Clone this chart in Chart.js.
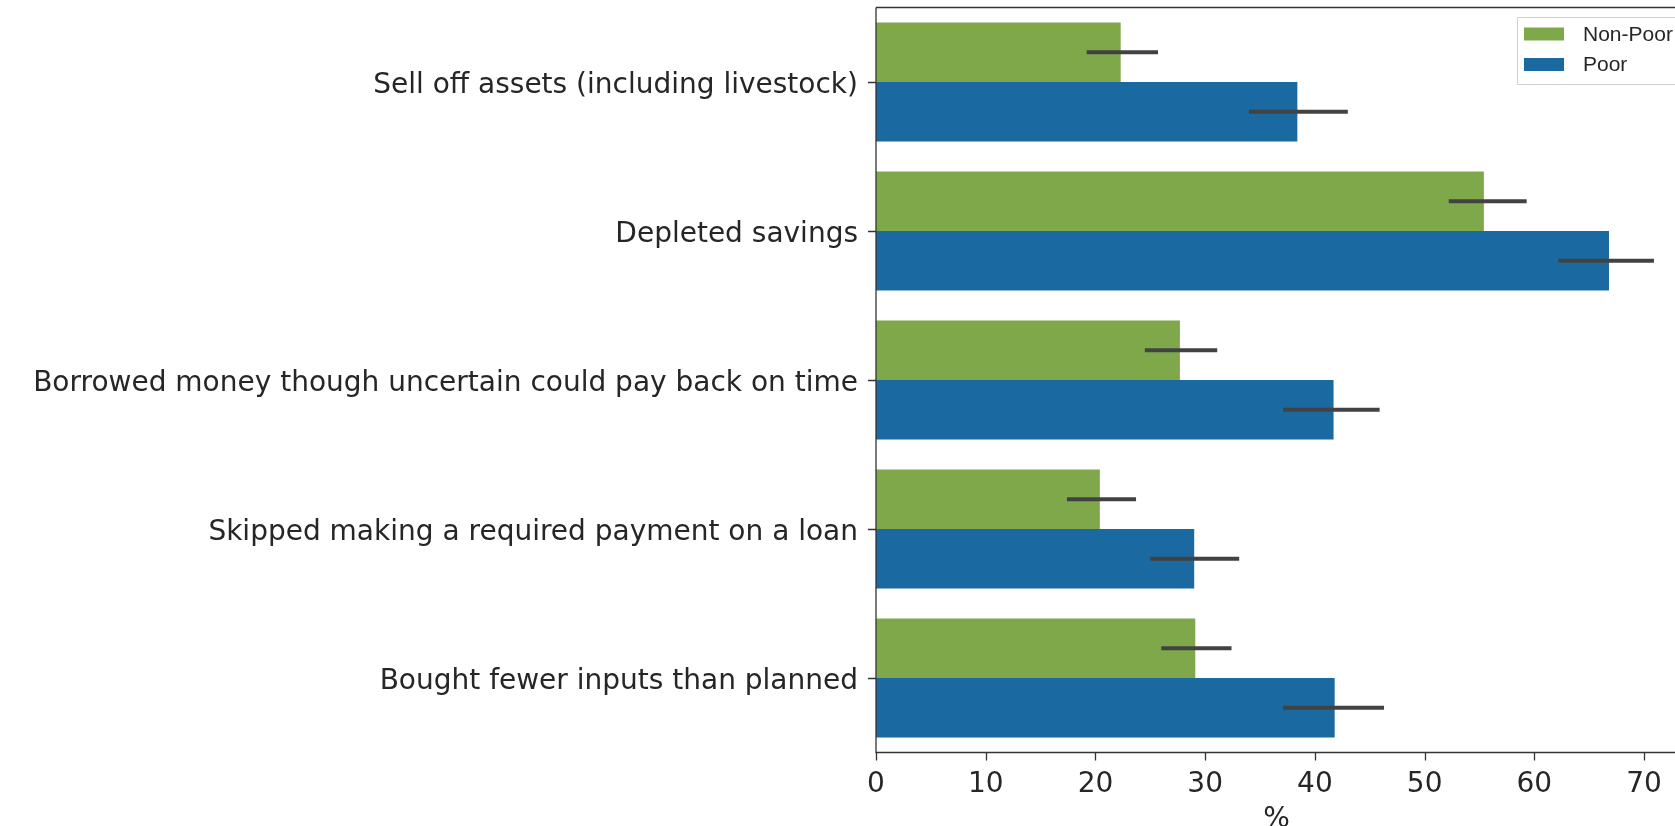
<!DOCTYPE html>
<html>
<head>
<meta charset="utf-8">
<script src="https://cdn.jsdelivr.net/npm/chart.js@4.4.1/dist/chart.umd.min.js"></script>
<style>
  html, body { margin: 0; padding: 0; background: #fff; overflow: hidden; }
  #wrap { position: absolute; left: 0; top: 0; width: 1677px; height: 837px; }
</style>
</head>
<body>
<div id="wrap"><canvas id="chart"></canvas></div>
<script>
// categories and values
const categories = [
  "Sell off assets (including livestock)",
  "Depleted savings",
  "Borrowed money though uncertain could pay back on time",
  "Skipped making a required payment on a loan",
  "Bought fewer inputs than planned"
];
const nonPoor = [22.3, 55.4, 27.7, 20.4, 29.1];
const poor = [38.4, 66.8, 41.7, 29.0, 41.8];
// confidence intervals (low / high)
const nonPoorLo = [19.2, 52.2, 24.5, 17.4, 26.0];
const nonPoorHi = [25.7, 59.3, 31.1, 23.7, 32.4];
const poorLo = [34.0, 62.2, 37.1, 25.0, 37.1];
const poorHi = [43.0, 70.9, 45.9, 33.1, 46.3];
const xTicks = [0, 10, 20, 30, 40, 50, 60, 70];

const green = "#7fa84a";
const blue = "#1a69a1";
const fontFam = "'DejaVu Sans', sans-serif";

// error bars drawn through the x scale and the bar elements
const errorBars = {
  id: "errorBars",
  afterDatasetsDraw(chart) {
    const ctx = chart.ctx;
    const x = chart.scales.x;
    const ranges = [[nonPoorLo, nonPoorHi], [poorLo, poorHi]];
    ctx.save();
    ctx.strokeStyle = "#424242";
    ctx.lineWidth = 4;
    ranges.forEach(function(r, i) {
      const meta = chart.getDatasetMeta(i);
      meta.data.forEach(function(bar, j) {
        ctx.beginPath();
        ctx.moveTo(x.getPixelForValue(r[0][j]), bar.y);
        ctx.lineTo(x.getPixelForValue(r[1][j]), bar.y);
        ctx.stroke();
      });
    });
    ctx.restore();
  }
};

// spines, ticks and legend in matplotlib style
const frame = {
  id: "frame",
  afterDraw(chart) {
    const ctx = chart.ctx;
    const a = chart.chartArea;
    const x = chart.scales.x;
    const y = chart.scales.y;
    ctx.save();
    ctx.strokeStyle = "#333";
    ctx.lineWidth = 1.3;
    ctx.beginPath();
    ctx.moveTo(a.left, a.top);
    ctx.lineTo(a.right, a.top);
    ctx.moveTo(a.left, a.top);
    ctx.lineTo(a.left, a.bottom);
    ctx.lineTo(a.right, a.bottom);
    ctx.stroke();
    ctx.beginPath();
    xTicks.forEach(function(v) {
      const px = Math.round(x.getPixelForValue(v)) + 0.5;
      ctx.moveTo(px, a.bottom);
      ctx.lineTo(px, a.bottom + 8);
    });
    categories.forEach(function(c, i) {
      const py = Math.round(y.getPixelForValue(i)) + 0.5;
      ctx.moveTo(a.left, py);
      ctx.lineTo(a.left - 8, py);
    });
    ctx.stroke();

    // legend
    const lx = 1517, ly = 17;
    ctx.fillStyle = "rgba(255,255,255,0.85)";
    ctx.strokeStyle = "#d0d0d0";
    ctx.lineWidth = 1;
    ctx.beginPath();
    ctx.rect(lx + 0.5, ly + 0.5, 200, 67);
    ctx.fill();
    ctx.stroke();
    const items = [["Non-Poor", green], ["Poor", blue]];
    ctx.font = "21px 'Liberation Sans', sans-serif";
    ctx.textBaseline = "middle";
    items.forEach(function(it, i) {
      const cy = ly + 17 + i * 30.5;
      ctx.fillStyle = it[1];
      ctx.fillRect(lx + 7, cy - 6.5, 40, 13);
      ctx.fillStyle = "#262626";
      ctx.fillText(it[0], lx + 66, cy + 1);
    });
    ctx.restore();
  }
};

new Chart(document.getElementById("chart"), {
  type: "bar",
  data: {
    labels: categories,
    datasets: [
      { label: "Non-Poor", data: nonPoor, backgroundColor: green },
      { label: "Poor", data: poor, backgroundColor: blue }
    ]
  },
  options: {
    indexAxis: "y",
    responsive: true,
    maintainAspectRatio: false,
    animation: false,
    layout: { padding: { top: 7.5, right: 0, left: 0, bottom: 0 } },
    datasets: { bar: { categoryPercentage: 0.8, barPercentage: 1.0 } },
    plugins: {
      legend: { display: false },
      tooltip: { enabled: false }
    },
    scales: {
      x: {
        min: 0,
        max: 73,
        afterBuildTicks(scale) {
          scale.ticks = xTicks.map(function(v) { return { value: v }; });
        },
        afterFit(scale) {
          scale.height = 84.5;
          scale.paddingLeft = 0;
          scale.paddingRight = 0;
        },
        grid: { display: false, drawTicks: false },
        border: { display: false },
        ticks: {
          color: "#262626",
          font: { family: fontFam, size: 28 },
          padding: 15
        },
        title: {
          display: true,
          text: "%",
          color: "#262626",
          font: { family: fontFam, size: 28 },
          padding: { top: 4, bottom: 0 }
        }
      },
      y: {
        afterFit(scale) {
          scale.width = 876;
          scale.paddingTop = 0;
          scale.paddingBottom = 0;
        },
        grid: { display: false, drawTicks: false },
        border: { display: false },
        ticks: {
          color: "#262626",
          font: { family: fontFam, size: 28 },
          padding: 18,
          labelOffset: 4
        }
      }
    }
  },
  plugins: [errorBars, frame]
});
</script>
</body>
</html>
